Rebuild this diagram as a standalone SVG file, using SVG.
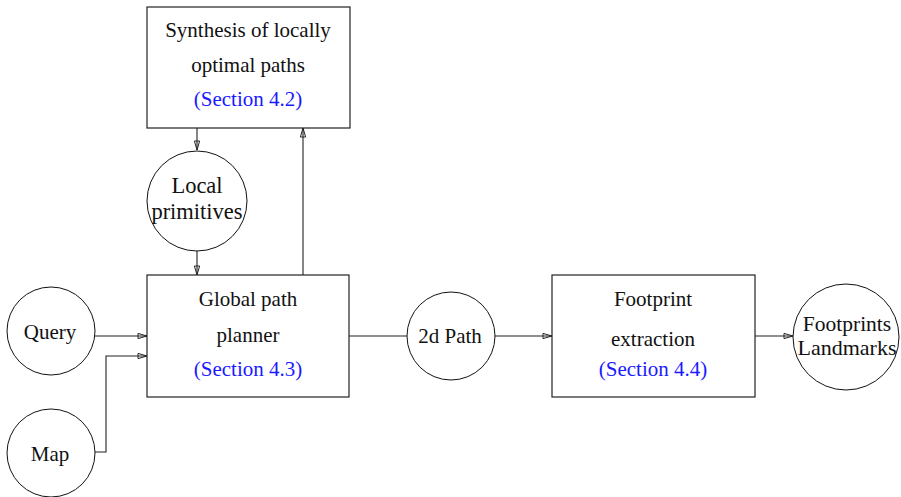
<svg xmlns="http://www.w3.org/2000/svg" width="901" height="497" viewBox="0 0 901 497">
<style>
  .box { fill: #fff; stroke: #222; stroke-width: 1.2; }
  .node { fill: #fff; stroke: #111; stroke-width: 1; }
  .t { font-family: "Liberation Serif", "Times New Roman", serif; font-size: 21px; fill: #111; text-anchor: middle; }
  .sec { fill: #1a1aff; }
  .c { fill: none; stroke: #222; stroke-width: 1.1; }
</style>
<defs>
  <marker id="ah" markerUnits="userSpaceOnUse" viewBox="-11 -4 12 8" refX="0" refY="0" markerWidth="12" markerHeight="8" orient="auto">
    <polygon points="0,0 -9,-2.6 -9,2.6" fill="none" stroke="#222" stroke-width="1"/>
  </marker>
</defs>
<rect width="901" height="497" fill="#fff"/>
<g id="connectors">
  <line class="c" x1="197" y1="128" x2="197" y2="150" marker-end="url(#ah)"/>
  <line class="c" x1="197" y1="251" x2="197" y2="275" marker-end="url(#ah)"/>
  <line class="c" x1="303" y1="275" x2="303" y2="128" marker-end="url(#ah)"/>
  <line class="c" x1="95" y1="336" x2="147" y2="336" marker-end="url(#ah)"/>
  <polyline class="c" points="95,452 106,452 106,356 147,356" marker-end="url(#ah)"/>
  <line class="c" x1="349" y1="336" x2="407" y2="336"/>
  <line class="c" x1="495" y1="336" x2="552" y2="336" marker-end="url(#ah)"/>
  <line class="c" x1="755" y1="336" x2="793" y2="336" marker-end="url(#ah)"/>
</g>
<g id="synthesis">
  <rect class="box" x="147" y="7" width="203" height="121"/>
  <text class="t" x="248" y="37">Synthesis of locally</text>
  <text class="t" x="248" y="72">optimal paths</text>
  <text class="t sec" x="248" y="106">(Section 4.2)</text>
</g>
<g id="local-primitives">
  <circle class="node" cx="197" cy="201" r="50"/>
  <text class="t" x="197" y="193" style="font-size:22.5px">Local</text>
  <text class="t" x="197" y="219" style="font-size:22.5px">primitives</text>
</g>
<g id="global-planner">
  <rect class="box" x="147" y="275" width="202" height="122"/>
  <text class="t" x="248" y="306">Global path</text>
  <text class="t" x="248" y="342">planner</text>
  <text class="t sec" x="248" y="376">(Section 4.3)</text>
</g>
<g id="query">
  <circle class="node" cx="51" cy="331" r="44"/>
  <text class="t" x="50" y="339">Query</text>
</g>
<g id="map">
  <circle class="node" cx="51" cy="453" r="44"/>
  <text class="t" x="50" y="461">Map</text>
</g>
<g id="path2d">
  <circle class="node" cx="451" cy="336" r="44"/>
  <text class="t" x="450" y="343">2d Path</text>
</g>
<g id="footprint-extraction">
  <rect class="box" x="552" y="275" width="203" height="122"/>
  <text class="t" x="653" y="306">Footprint</text>
  <text class="t" x="653" y="346">extraction</text>
  <text class="t sec" x="653" y="376">(Section 4.4)</text>
</g>
<g id="footprints-landmarks">
  <circle class="node" cx="846" cy="337" r="53"/>
  <text class="t" x="847" y="331" style="font-size:21.5px">Footprints</text>
  <text class="t" x="847" y="355" style="font-size:22px">Landmarks</text>
</g>
</svg>
